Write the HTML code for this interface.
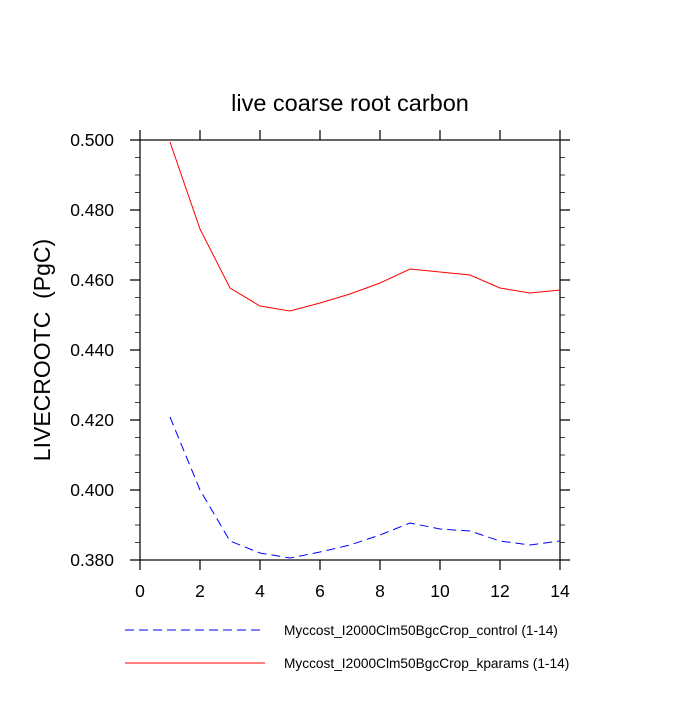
<!DOCTYPE html><html><head><style>body{margin:0;background:#fff}</style></head><body>
<svg width="700" height="700" xmlns="http://www.w3.org/2000/svg" font-family="Liberation Sans, sans-serif">
<rect width="700" height="700" fill="#fff"/>
<text x="350" y="111" font-size="23.5" text-anchor="middle">live coarse root carbon</text>
<g stroke="#000" stroke-width="1.2" fill="none">
<rect x="140" y="140" width="420" height="420"/>
<path d="M140 140h-10M140 210h-10M140 280h-10M140 350h-10M140 420h-10M140 490h-10M140 560h-10
M560 140h10M560 210h10M560 280h10M560 350h10M560 420h10M560 490h10M560 560h10
M140 560v10M200 560v10M260 560v10M320 560v10M380 560v10M440 560v10M500 560v10M560 560v10
M140 140v-10M200 140v-10M260 140v-10M320 140v-10M380 140v-10M440 140v-10M500 140v-10M560 140v-10"/>
<path stroke-width="0.8" d="M140 157.5h-5M140 175h-5M140 192.5h-5M140 227.5h-5M140 245h-5M140 262.5h-5M140 297.5h-5M140 315h-5M140 332.5h-5M140 367.5h-5M140 385h-5M140 402.5h-5M140 437.5h-5M140 455h-5M140 472.5h-5M140 507.5h-5M140 525h-5M140 542.5h-5
M560 157.5h5M560 175h5M560 192.5h5M560 227.5h5M560 245h5M560 262.5h5M560 297.5h5M560 315h5M560 332.5h5M560 367.5h5M560 385h5M560 402.5h5M560 437.5h5M560 455h5M560 472.5h5M560 507.5h5M560 525h5M560 542.5h5"/>
</g>
<g font-size="17.5" text-anchor="end">
<text x="114" y="146">0.500</text><text x="114" y="216">0.480</text><text x="114" y="286">0.460</text><text x="114" y="356">0.440</text><text x="114" y="426">0.420</text><text x="114" y="496">0.400</text><text x="114" y="566">0.380</text>
</g>
<g font-size="17.5" text-anchor="middle">
<text x="140" y="597">0</text><text x="200" y="597">2</text><text x="260" y="597">4</text><text x="320" y="597">6</text><text x="380" y="597">8</text><text x="440" y="597">10</text><text x="500" y="597">12</text><text x="560" y="597">14</text>
</g>
<text transform="translate(50 350) rotate(-90)" font-size="23" text-anchor="middle" xml:space="preserve">LIVECROOTC  (PgC)</text>
<polyline fill="none" stroke="#f00" stroke-width="1" points="170,142 200,229 230,288 260,306 290,311 320,303 350,294 380,283 410,269 440,272 470,275 500,288 530,293 560,290"/>
<polyline fill="none" stroke="#00f" stroke-width="1" stroke-dasharray="9,5" points="170,417 200,490 230,541 260,553 290,558 320,552 350,545 380,535 410,523 440,529 470,531 500,541 530,545 560,541"/>
<line x1="125" y1="630" x2="262" y2="630" stroke="#00f" stroke-dasharray="9,5"/>
<line x1="125" y1="663" x2="265" y2="663" stroke="#f00"/>
<text x="284" y="635" font-size="13.7">Myccost_I2000Clm50BgcCrop_control (1-14)</text>
<text x="284" y="668" font-size="13.7">Myccost_I2000Clm50BgcCrop_kparams (1-14)</text>
</svg></body></html>
